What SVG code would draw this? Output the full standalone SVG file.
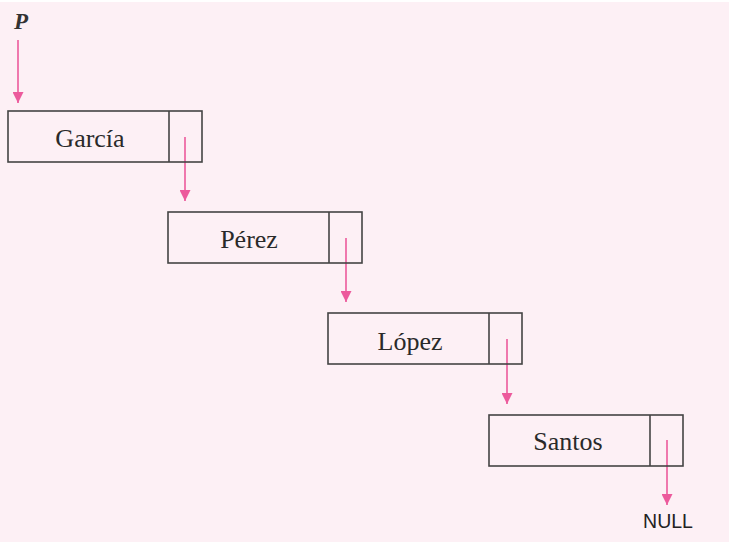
<svg xmlns="http://www.w3.org/2000/svg" width="734" height="544" viewBox="0 0 734 544">
<defs>
<style>
.box{fill:none;stroke:#444;stroke-width:1.6}
.lbl{font-family:"Liberation Serif","Times New Roman",serif;font-size:26px;fill:#2a2a2a;text-anchor:middle}
.arr{stroke:#ec5a9c;stroke-width:1.6;fill:none;marker-end:url(#ah)}
</style>
<marker id="ah" viewBox="0 0 10 10" refX="10" refY="5" markerWidth="11" markerHeight="11" markerUnits="userSpaceOnUse" orient="auto">
<path d="M0,0 L10,5 L0,10 Z" fill="#ec5a9c"/>
</marker>
</defs>
<rect x="0" y="2" width="729" height="540" fill="#fdf0f5"/>
<text x="21" y="29" style="font-family:'Liberation Serif',serif;font-style:italic;font-weight:bold;font-size:23px;fill:#333" text-anchor="middle">P</text>
<g id="connectors">
<line class="arr" x1="18" y1="40" x2="18" y2="103"/>
<line class="arr" x1="185" y1="137" x2="185" y2="201"/>
<line class="arr" x1="346" y1="238" x2="346" y2="302"/>
<line class="arr" x1="507" y1="339" x2="507" y2="404"/>
<line class="arr" x1="667" y1="440" x2="667" y2="505"/>
</g>
<g id="garcia">
<rect class="box" x="8" y="111" width="194" height="51"/>
<line class="box" x1="169" y1="111" x2="169" y2="162"/>
<text class="lbl" x="90" y="147">García</text>
</g>
<g id="perez">
<rect class="box" x="168" y="212" width="194" height="51"/>
<line class="box" x1="329" y1="212" x2="329" y2="263"/>
<text class="lbl" x="249" y="248">Pérez</text>
</g>
<g id="lopez">
<rect class="box" x="328" y="313" width="194" height="51"/>
<line class="box" x1="489" y1="313" x2="489" y2="364"/>
<text class="lbl" x="410" y="350">López</text>
</g>
<g id="santos">
<rect class="box" x="489" y="415" width="194" height="51"/>
<line class="box" x1="650" y1="415" x2="650" y2="466"/>
<text class="lbl" x="568" y="450">Santos</text>
</g>
<g id="null">
<text x="668" y="528" style="font-family:'Liberation Sans',Arial,sans-serif;font-size:19.5px;fill:#222" text-anchor="middle">NULL</text>
</g>
</svg>
